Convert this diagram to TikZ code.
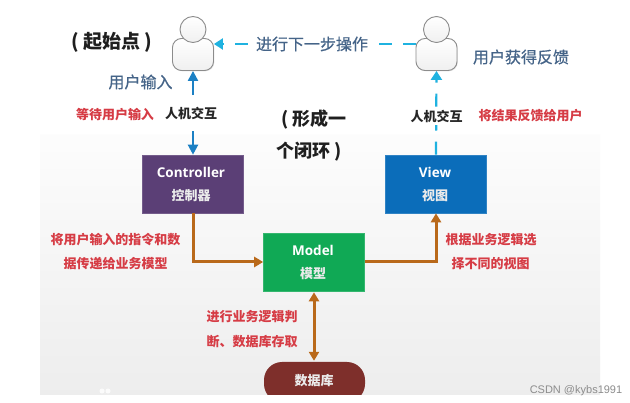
\documentclass[tikz,border=0pt]{standalone}
\usepackage{fontspec}
\setmainfont{Noto Sans CJK SC}
\newfontfamily\latinf{Open Sans}
\newfontfamily\markf{Liberation Sans}
\usetikzlibrary{arrows.meta,shadows}
\definecolor{purpbox}{HTML}{5B3F76}
\definecolor{bluebox}{HTML}{0B6DBA}
\definecolor{greenbox}{HTML}{10A955}
\definecolor{dbred}{HTML}{7E2F2B}
\definecolor{brownln}{HTML}{B9691A}
\definecolor{dashblue}{HTML}{1B80C4}
\definecolor{dashcyan}{HTML}{1FB2E0}
\definecolor{labblue}{HTML}{456488}
\definecolor{labred}{HTML}{D63C45}
\tikzset{
  x=1pt,y=-1pt,
  box/.style={draw=#1!85!white,fill=#1,minimum width=101pt,minimum height=58pt,inner sep=0pt,line width=.6pt},
  boxt/.style={text=white,font=\fontsize{13.5}{13.5}\selectfont\bfseries\latinf,inner sep=0pt},
  boxc/.style={text=white!92!black,font=\fontsize{13}{13}\selectfont\bfseries,inner sep=0pt},
  body/.style={draw=black!45,top color=white,bottom color=black!6,rounded corners=9pt,minimum width=41pt,minimum height=32pt,inner sep=0pt,line width=.9pt,drop shadow={shadow xshift=.8pt,shadow yshift=-.8pt,opacity=.2}},
  head/.style={circle,draw=black!45,top color=white,bottom color=black!6,minimum size=26pt,inner sep=0pt,line width=.9pt},
  redl/.style={text=labred,font=\fontsize{13}{13}\selectfont\bfseries,inner sep=0pt},
  bluel/.style={text=labblue,font=\fontsize{16}{16}\selectfont\addfontfeature{FakeBold=0.6},inner sep=0pt},
  blackb/.style={text=black!88,font=\fontsize{19}{19}\selectfont\bfseries,inner sep=0pt},
  blackm/.style={text=black!85,font=\fontsize{13}{13}\selectfont\bfseries,inner sep=0pt},
  brownarrow/.style={draw=brownln,line width=3pt,-{Triangle[length=9pt,width=10pt]}},
  dashb/.style={draw=dashblue,line width=2.2pt,dash pattern=on 14pt off 11pt,{Triangle[length=10pt,width=10pt]}-{Triangle[length=10pt,width=10pt]}},
  dashc/.style={draw=dashcyan,line width=2.2pt,dash pattern=on 13pt off 11pt,-{Triangle[length=9pt,width=11pt]}},
}
\begin{document}
\begin{tikzpicture}
\useasboundingbox (0,0) rectangle (630,403);
\fill[white] (0,0) rectangle (630,403);
\shade[top color=white!99!black,bottom color=black!7] (40,135) rectangle (600,395);
\fill[white,opacity=.8] (102,391) circle (2.5pt) (108,391) circle (2.5pt);

% boxes
\node[box=purpbox] (ctrl) at (193,184) {};
\node[box=bluebox] (view) at (436,184) {};
\node[box=greenbox] (model) at (314,262) {};
\begin{scope}
\clip (240,340) rectangle (390,395);
\node[fill=dbred,minimum width=101pt,minimum height=40pt,rounded corners=18pt,inner sep=0pt] (db) at (314.5,382) {};
\end{scope}
\node[boxt] (ctrlt) at (191,172) {Controller};
\node[boxc] (ctrlc) at (191,196) {控制器};
\node[boxt] (viewt) at (435,172) {View};
\node[boxc] (viewc) at (435,196) {视图};
\node[boxt] (modelt) at (313,250) {Model};
\node[boxc] (modelc) at (313,274) {模型};
\node[boxc] (dbt) at (314,381) {数据库};

% persons
\node[body] (userL) at (193,54.5) {};
\node[head] (headL) at (193,29.5) {};
\node[body] (userR) at (436.5,54.5) {};
\node[head] (headR) at (436.5,29.5) {};
\coordinate (linelevel) at (312,44);

% connectors
\draw[brownarrow] (ctrl.south) |- (model.west);
\draw[brownarrow] (model.east) -| (view.south);
\draw[brownarrow,{Triangle[length=9pt,width=10pt]}-{Triangle[length=9pt,width=10pt]},shorten <=1pt,shorten >=1pt] (model.south) -- (model.south |- db.north);
\draw[dashb] (ctrl.north) -- (userL.south);
\draw[dashc] (view.north) -- (userR.south);
\draw[dashc] (userR.west |- linelevel) -- (userL.east |- linelevel);

% labels
\node[bluel,fill=white,inner xsep=1pt,inner ysep=2pt] (next) at (linelevel) {进行下一步操作};
\node[bluel] (input) at (140.5,82) {用户输入};
\node[bluel] (fb) at (521,57) {用户获得反馈};
\node[blackb] (start) at (112,42) {( 起始点 )};
\node[blackb,font=\fontsize{18}{18}\selectfont\bfseries] (loopa) at (314,120) {( 形成一};
\node[blackb,font=\fontsize{18}{18}\selectfont\bfseries] (loopb) at (309,152) {个闭环 )};
\node[blackm,fill=white,inner xsep=1pt,inner ysep=3pt] (hciL) at (191,113) {人机交互};
\node[blackm,fill=white,inner xsep=1pt,inner ysep=3pt] (hciR) at (436.5,116) {人机交互};
\node[redl] (wait) at (115,115) {等待用户输入};
\node[redl] (give) at (530.5,116) {将结果反馈给用户};
\node[redl] (pa) at (115.5,240) {将用户输入的指令和数};
\node[redl] (pb) at (115.5,264) {据传递给业务模型};
\node[redl] (qa) at (252,317) {进行业务逻辑判};
\node[redl] (qb) at (252,342) {断、数据库存取};
\node[redl] (ra) at (491,240) {根据业务逻辑选};
\node[redl] (rb) at (490.5,264) {择不同的视图};
\node[text=black!45,font=\fontsize{11}{12}\selectfont\markf,inner sep=0pt] (mark) at (576,391) {CSDN @kybs1991};
\end{tikzpicture}
\end{document}
